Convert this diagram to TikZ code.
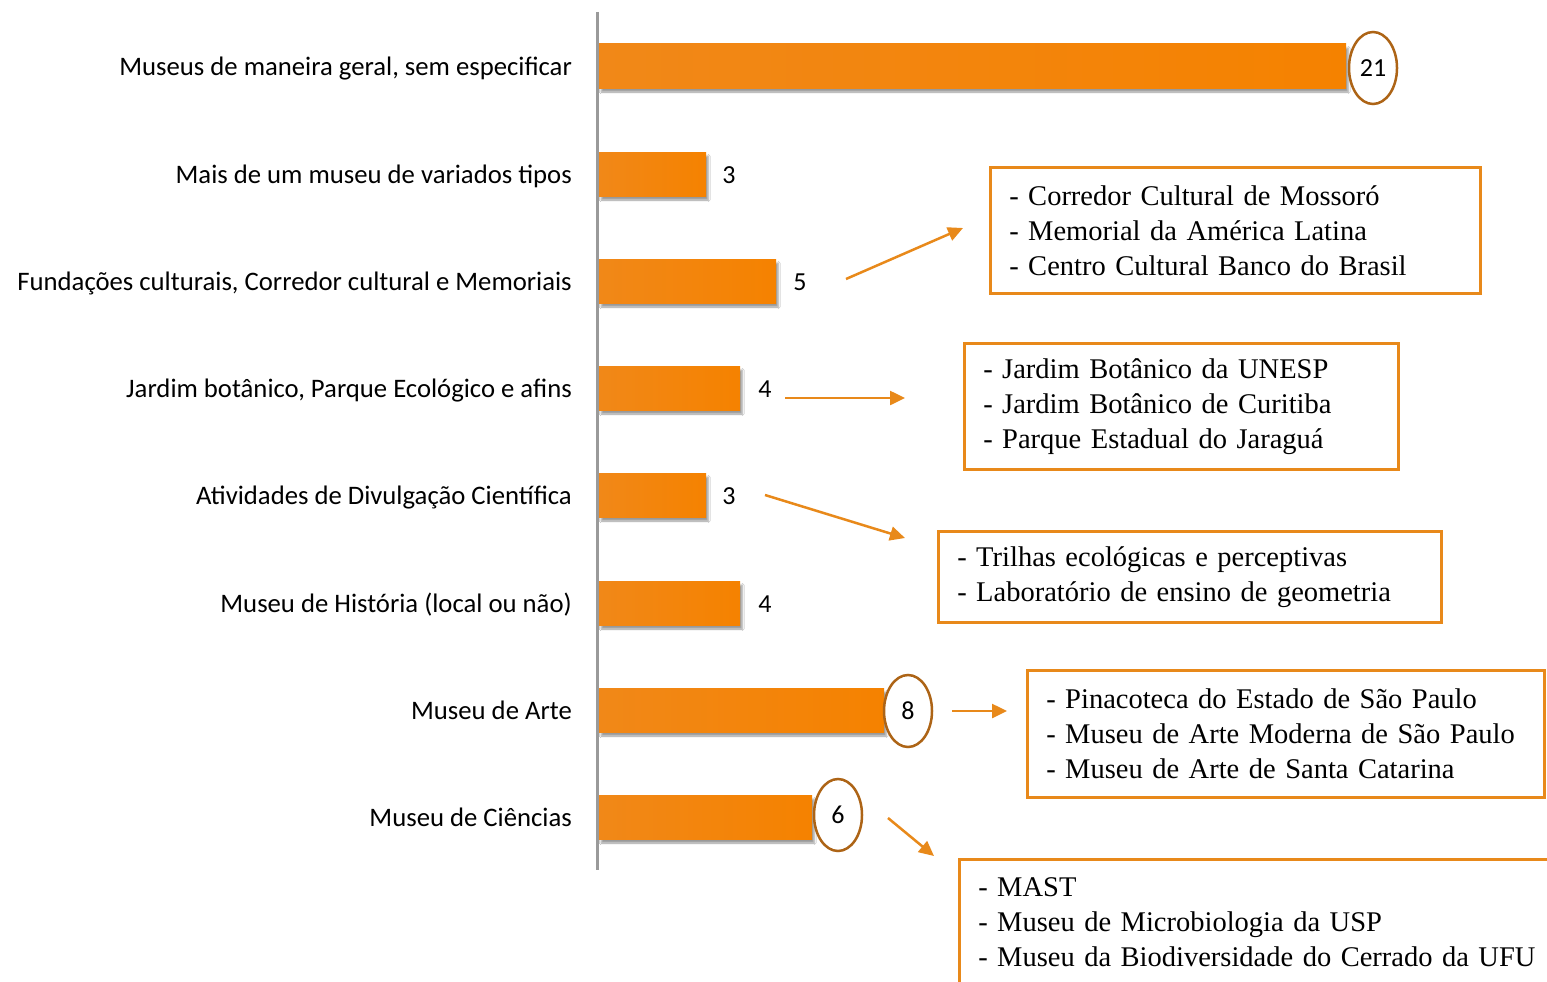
\documentclass[tikz,border=0pt]{standalone}
\usepackage{fontspec}
\setmainfont{Liberation Serif}
\newfontfamily\calfont{Carlito}
\usetikzlibrary{shapes.geometric,shadows.blur,arrows.meta}
\definecolor{barA}{HTML}{F18818}
\definecolor{barB}{HTML}{F58200}
\definecolor{boxor}{HTML}{E8891A}
\definecolor{ringbr}{HTML}{AD6416}
\definecolor{axisgr}{HTML}{9A9A9A}
\begin{document}
\begin{tikzpicture}[x=1pt,y=-1pt,
  barbox/.style={anchor=west, minimum height=44pt, inner sep=0pt, left color=barA, right color=barB, draw=none,
    blur shadow={shadow xshift=2pt, shadow yshift=-4pt, shadow opacity=40, shadow blur steps=6}},
  catlab/.style={anchor=base east, inner sep=0pt, font=\calfont\fontsize{26.7}{30}\selectfont},
  vallab/.style={anchor=base, inner sep=0pt, font=\calfont\fontsize{26}{30}\selectfont},
  ring/.style={ellipse, draw=ringbr, line width=2.5pt, minimum width=48pt, minimum height=72pt, inner sep=0pt, fill=white,
    font=\calfont\fontsize{26}{30}\selectfont},
  listbox/.style={draw=boxor, line width=2.5pt, anchor=north west, align=left, inner xsep=19pt, inner ysep=0pt,
    font=\fontsize{28.5}{35}\selectfont},
  arr/.style={draw=boxor, line width=2.5pt, -{Triangle[length=15pt,width=14pt]}}
]
\clip (0,0) rectangle (1547,982);
\fill[white] (0,0) rectangle (1547,982);

% bars
\node[barbox, minimum width=747pt] (b1) at (599,66) {};
\node[barbox, minimum width=107pt] (b2) at (599,174) {};
\node[barbox, minimum width=177pt] (b3) at (599,281) {};
\node[barbox, minimum width=141pt] (b4) at (599,388) {};
\node[barbox, minimum width=107pt] (b5) at (599,495) {};
\node[barbox, minimum width=141pt] (b6) at (599,603) {};
\node[barbox, minimum width=285pt] (b7) at (599,710) {};
\node[barbox, minimum width=213pt] (b8) at (599,817) {};

% axis
\coordinate (axtop) at (597,12);
\coordinate (axbot) at (597,870);
\draw[axisgr, line width=3pt] (axtop) -- (axbot);

% category labels
\node[catlab] (c1) at (572,75) {Museus de maneira geral, sem especificar};
\node[catlab] (c2) at (572,183) {Mais de um museu de variados tipos};
\node[catlab] (c3) at (572,290) {Fundações culturais, Corredor cultural e Memoriais};
\node[catlab] (c4) at (572,397) {Jardim botânico, Parque Ecológico e afins};
\node[catlab] (c5) at (572,504) {Atividades de Divulgação Científica};
\node[catlab] (c6) at (572,612) {Museu de História (local ou não)};
\node[catlab] (c7) at (572,719) {Museu de Arte};
\node[catlab] (c8) at (572,826) {Museu de Ciências};

% values
\node[ring] (v1) at (1373,68) {21};
\node[vallab] (v2) at (729,183) {3};
\node[vallab] (v3) at (800,290) {5};
\node[vallab] (v4) at (765,397) {4};
\node[vallab] (v5) at (729,504) {3};
\node[vallab] (v6) at (765,612) {4};
\node[ring] (v7) at (908,711) {8};
\node[ring] (v8) at (838,815) {6};

% list boxes
\node[listbox, minimum width=490pt, minimum height=126pt, text width=452pt] (l1) at (989,166)
  {- Corredor Cultural de Mossoró\\- Memorial da América Latina\\- Centro Cultural Banco do Brasil};
\node[listbox, minimum width=434pt, minimum height=126pt, text width=396pt] (l2) at (963,342)
  {- Jardim Botânico da UNESP\\- Jardim Botânico de Curitiba\\- Parque Estadual do Jaraguá};
\node[listbox, minimum width=503pt, minimum height=91pt, text width=465pt] (l3) at (937,530)
  {- Trilhas ecológicas e perceptivas\\- Laboratório de ensino de geometria};
\node[listbox, minimum width=517pt, minimum height=127pt, text width=479pt] (l4) at (1026,669)
  {- Pinacoteca do Estado de São Paulo\\- Museu de Arte Moderna de São Paulo\\- Museu de Arte de Santa Catarina};
\node[listbox, minimum width=640pt, minimum height=126pt, text width=602pt] (l5) at (958,858)
  {- MAST\\- Museu de Microbiologia da USP\\- Museu da Biodiversidade do Cerrado da UFU};

% arrows
\coordinate (a1s) at (846,279); \coordinate (a1e) at (963,228);
\coordinate (a2s) at (785,398); \coordinate (a2e) at (905,398);
\coordinate (a3s) at (765,495); \coordinate (a3e) at (905,538);
\coordinate (a4s) at (952,711); \coordinate (a4e) at (1007,711);
\coordinate (a5s) at (888,818); \coordinate (a5e) at (934,856);
\draw[arr] (a1s) -- (a1e);
\draw[arr] (a2s) -- (a2e);
\draw[arr] (a3s) -- (a3e);
\draw[arr] (a4s) -- (a4e);
\draw[arr] (a5s) -- (a5e);
\end{tikzpicture}
\end{document}
